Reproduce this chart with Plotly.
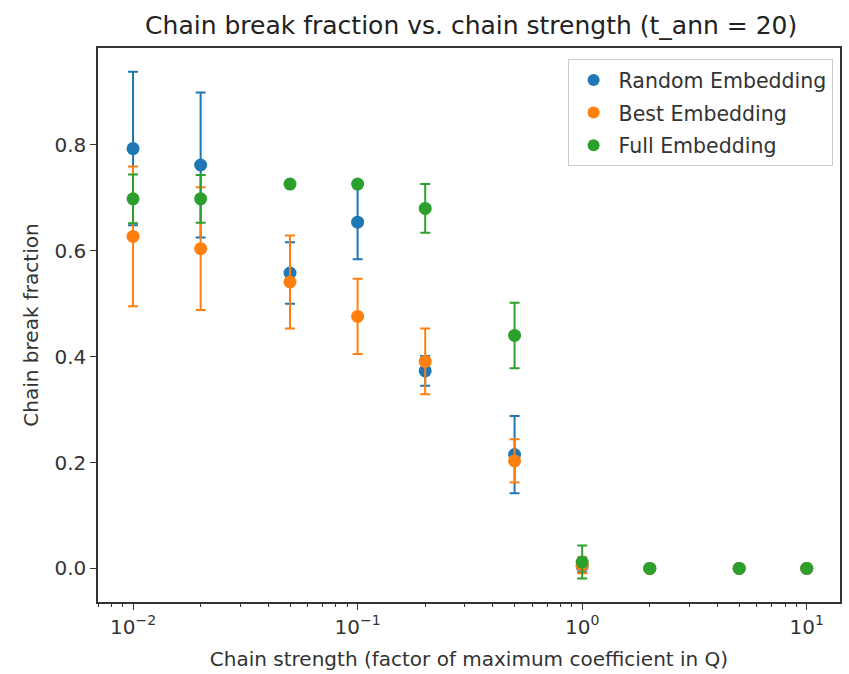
import plotly.graph_objects as go

chain_strength = [0.01, 0.02, 0.05, 0.1, 0.2, 0.5, 1, 2, 5, 10]

random_mean = [0.793, 0.762, 0.558, 0.654, 0.373, 0.215, 0.004, 0.0, 0.0, 0.0]
random_err = [0.145, 0.137, 0.058, 0.070, 0.028, 0.073, 0.012, 0.0, 0.0, 0.0]

best_mean = [0.627, 0.604, 0.541, 0.476, 0.391, 0.203, 0.006, 0.0, 0.0, 0.0]
best_err = [0.132, 0.116, 0.088, 0.071, 0.062, 0.041, 0.015, 0.0, 0.0, 0.0]

full_mean = [0.698, 0.698, 0.726, 0.726, 0.680, 0.440, 0.012, 0.0, 0.0, 0.0]
full_err = [0.046, 0.045, 0.0, 0.0, 0.046, 0.062, 0.031, 0.0, 0.0, 0.0]

series = [
    ("Random Embedding", random_mean, random_err, "#1f77b4"),
    ("Best Embedding", best_mean, best_err, "#ff7f0e"),
    ("Full Embedding", full_mean, full_err, "#2ca02c"),
]

x_tickvals = [0.01, 0.1, 1, 10]
x_ticktext = ["10<sup>\u22122</sup>", "10<sup>\u22121</sup>", "10<sup>0</sup>", "10<sup>1</sup>"]
y_tickvals = [0.0, 0.2, 0.4, 0.6, 0.8]

fig = go.Figure()
for name, mean, err, color in series:
    fig.add_trace(go.Scatter(
        x=chain_strength, y=mean, mode="markers", name=name, legendgroup=name,
        marker=dict(color=color, size=13),
        error_y=dict(type="data", array=err, visible=True, color=color,
                     thickness=2, width=5),
    ))

font_family = "DejaVu Sans"
fig.update_layout(
    width=849, height=674,
    margin=dict(l=98, r=7, t=48, b=72),
    paper_bgcolor="white", plot_bgcolor="white",
    font=dict(family=font_family, size=20, color="#333333"),
    title=dict(text="Chain break fraction vs. chain strength (t_ann = 20)",
               x=0.555, xanchor="center", y=0.962, yanchor="middle",
               font=dict(size=25, color="#222222")),
    showlegend=True,
    legend=dict(x=0.99, xanchor="right", y=0.98, yanchor="top",
                bgcolor="rgba(255,255,255,0.9)", bordercolor="#cccccc",
                borderwidth=1, font=dict(size=20.5, color="#333333"),
                itemsizing="constant", itemwidth=40,
                traceorder="grouped", tracegroupgap=3),
    xaxis=dict(
        type="log", range=[-2.156, 1.148],
        tickmode="array", tickvals=x_tickvals, ticktext=x_ticktext,
        ticks="outside", ticklen=6, tickwidth=1.2, tickcolor="#333333",
        showgrid=False, zeroline=False,
        showline=True, linecolor="#333333", linewidth=1.5, mirror=True,
        minor=dict(dtick="D1", ticks="outside", ticklen=3, tickwidth=1,
                   tickcolor="#333333", showgrid=False),
        title=dict(text="Chain strength (factor of maximum coefficient in Q)",
                   font=dict(size=20), standoff=14),
        tickfont=dict(size=20),
    ),
    yaxis=dict(
        range=[-0.0635, 0.983],
        tickvals=y_tickvals, tickformat=".1f",
        ticks="outside", ticklen=6, tickwidth=1.2, tickcolor="#333333",
        showgrid=False, zeroline=False,
        showline=True, linecolor="#333333", linewidth=1.5, mirror=True,
        title=dict(text="Chain break fraction", font=dict(size=20), standoff=10),
        tickfont=dict(size=20),
    ),
)

fig.write_html("out.html")
